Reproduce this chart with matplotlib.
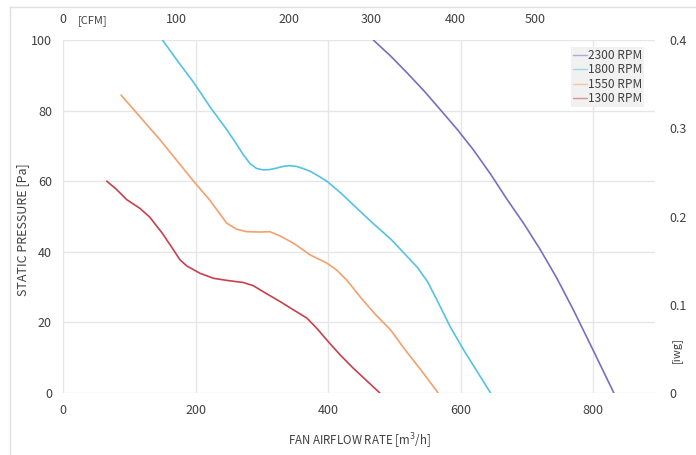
import matplotlib
matplotlib.use("Agg")
import matplotlib.pyplot as plt

plt.rcParams['font.family'] = ['Noto Sans CJK KR', 'DejaVu Sans']

# Data (airflow m3/h, static pressure Pa)
x_2300 = [468, 494, 519, 545, 569, 595, 619, 645, 670, 695, 720, 745, 770, 800, 831]
p_2300 = [100, 95.5, 90.7, 85.5, 80.3, 74.6, 68.9, 62, 54.8, 48, 40.6, 32.5, 23.5, 12, 0]

x_1800 = [150, 175, 197, 222, 247, 260, 272, 282, 292, 302, 312, 322, 332, 342, 352, 362, 373,
          385, 398, 420, 448, 468, 495, 519, 535, 550, 565, 584, 605, 625, 645]
p_1800 = [100, 93.5, 88, 81, 74.6, 71, 67.5, 65, 63.6, 63.2, 63.3, 63.7, 64.2, 64.4, 64.2, 63.6, 62.8,
          61.5, 60, 56.5, 51.5, 48, 43.5, 38.7, 35.5, 31.5, 26, 18.8, 12, 6, 0]

x_1550 = [87.5, 115, 146, 172, 197, 222, 247, 262, 277, 297, 312, 327.5, 348, 373, 398, 413,
          428, 448, 470, 494, 515, 540, 566]
p_1550 = [84.4, 78.5, 71.8, 65.8, 60, 54.5, 48.1, 46.4, 45.7, 45.6, 45.7, 44.5, 42.4, 39.1, 36.8, 34.8,
          32, 27.3, 22.5, 17.9, 12.5, 6.5, 0]

x_1300 = [66, 80, 96, 116, 131, 140, 150, 161.5, 176.6, 186.7, 206.8, 226.9, 247, 272, 287, 307.4, 327.5,
          348, 368, 383, 398, 418, 438, 458, 478]
p_1300 = [60, 57.8, 54.8, 52.3, 49.8, 47.6, 45.2, 42, 37.7, 36, 33.9, 32.5, 31.9, 31.3, 30.4, 28.1, 25.9,
          23.5, 21.2, 18.3, 15, 10.8, 7, 3.5, 0]

series_labels = ['2300 RPM', '1800 RPM', '1550 RPM', '1300 RPM']
series_colors = ['#7b6cc4', '#52c3e3', '#f4a06c', '#c8404c']

x_ticks = [0, 200, 400, 600, 800]
y_ticks = [0, 20, 40, 60, 80, 100]
cfm_tick_pos = [0, 170.6, 341, 465, 592, 712]
cfm_tick_labels = ['0', '100', '200', '300', '400', '500']
iwg_ticks = [0, 0.1, 0.2, 0.3, 0.4]
iwg_labels = ['0', '0.1', '0.2', '0.3', '0.4']

fig = plt.figure(figsize=(6.96, 4.55), dpi=100)
ax = fig.add_axes([63/696, 1-393/455, (655-63)/696, (393-40)/455])

tc = '#404040'
for xs, ps, lab, col in zip([x_2300, x_1800, x_1550, x_1300],
                            [p_2300, p_1800, p_1550, p_1300],
                            series_labels, series_colors):
    ax.plot(xs, ps, color=col, lw=1.2, label=lab, zorder=3,
            solid_joinstyle='round', solid_capstyle='round')

ax.set_xlim(0, 893)
ax.set_ylim(0, 100)
ax.set_xticks(x_ticks)
ax.set_yticks(y_ticks)
ax.grid(True, color='#e6e6e6', lw=1)
ax.set_axisbelow(True)
for s in ax.spines.values():
    s.set_visible(False)
ax.tick_params(length=0, labelsize=9, colors=tc, pad=8)
ax.set_xlabel('FAN AIRFLOW RATE [m$^3$/h]', fontsize=8.3, color=tc, labelpad=10)
ax.set_ylabel('STATIC PRESSURE [Pa]', fontsize=9, color=tc)
ax.yaxis.set_label_coords(-0.057, 0.462)

leg = ax.legend(loc='upper right', bbox_to_anchor=(0.982, 0.98), fontsize=8.6,
                handlelength=1.2, handletextpad=0.1, borderpad=0.15, labelspacing=0.12,
                frameon=True, fancybox=False, borderaxespad=0)
leg.get_frame().set_facecolor('#f1f1f1')
leg.get_frame().set_edgecolor('none')
leg.get_frame().set_alpha(1)
for t in leg.get_texts():
    t.set_color(tc)
for h in leg.get_lines():
    h.set_alpha(0.55)
    h.set_linewidth(1.0)

# top CFM axis
axt = ax.twiny()
axt.set_xlim(ax.get_xlim())
axt.set_xticks(cfm_tick_pos)
axt.set_xticklabels(cfm_tick_labels)
axt.tick_params(length=0, labelsize=9, colors=tc, pad=10)
for s in axt.spines.values():
    s.set_visible(False)
fig.text(78/696, 1-21/455, '[CFM]', fontsize=8, color=tc, va='center', ha='left')

# right iwg axis
axr = ax.twinx()
axr.set_ylim(0, 0.4)
axr.set_yticks(iwg_ticks)
axr.set_yticklabels(iwg_labels)
axr.tick_params(length=0, labelsize=9, colors=tc, pad=10)
for s in axr.spines.values():
    s.set_visible(False)
fig.text(676/696, 1-350/455, '[iwg]', fontsize=8, color=tc, rotation=90, va='center', ha='center')

# light frame
fig.add_artist(plt.Line2D([10/696, 1], [1-7/455, 1-7/455], color='#e0e0e0', lw=1, transform=fig.transFigure))
fig.add_artist(plt.Line2D([10/696, 10/696], [0, 1-7/455], color='#e0e0e0', lw=1, transform=fig.transFigure))

fig.savefig('out.png', dpi=100)
